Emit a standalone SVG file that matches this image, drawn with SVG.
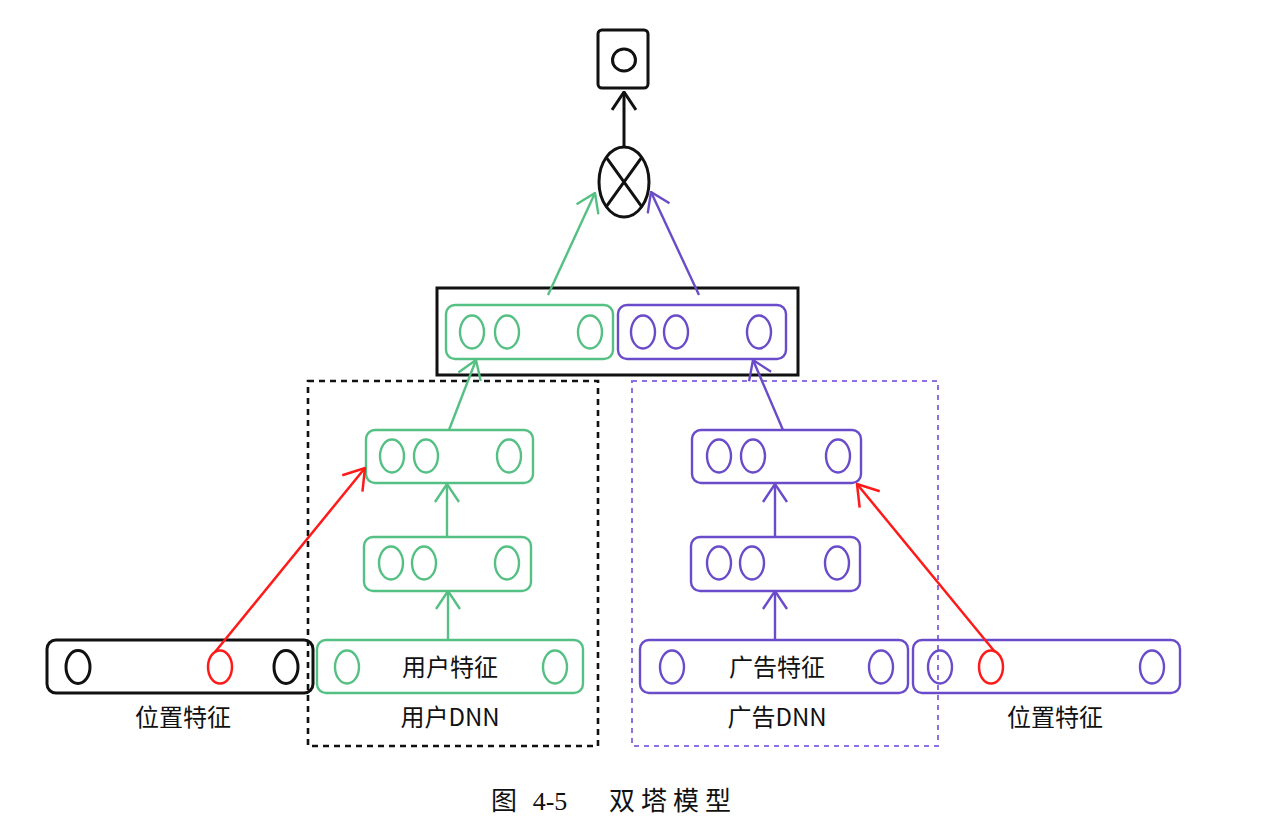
<svg xmlns="http://www.w3.org/2000/svg" width="1284" height="834" viewBox="0 0 1284 834">
<style>
.g{fill:none;stroke:#55c083;stroke-width:2.4}
.p{fill:none;stroke:#6a4bc9;stroke-width:2.4}
.k{fill:none;stroke:#111;stroke-width:3}
.r{fill:none;stroke:#ff1a1a;stroke-width:2.5}
.lbl{font-family:"Noto Sans CJK SC","Noto Sans",sans-serif;font-size:24px;fill:#111;text-anchor:middle;dominant-baseline:central}
.cap{font-family:"Liberation Serif","Noto Sans CJK SC",serif;font-size:26px;fill:#111;text-anchor:middle;dominant-baseline:central}
</style>
<defs>
<marker id="ag" viewBox="0 0 20 26" refX="19" refY="13" markerWidth="20" markerHeight="26" markerUnits="userSpaceOnUse" orient="auto"><path d="M1,1 L19,13 L1,25" fill="none" stroke="#55c083" stroke-width="2.4"/></marker>
<marker id="ap" viewBox="0 0 20 26" refX="19" refY="13" markerWidth="20" markerHeight="26" markerUnits="userSpaceOnUse" orient="auto"><path d="M1,1 L19,13 L1,25" fill="none" stroke="#6a4bc9" stroke-width="2.4"/></marker>
<marker id="ar" viewBox="0 0 22 28" refX="21" refY="14" markerWidth="22" markerHeight="28" markerUnits="userSpaceOnUse" orient="auto"><path d="M1,1 L21,14 L1,27" fill="none" stroke="#ff1a1a" stroke-width="2.5"/></marker>
<marker id="ak" viewBox="0 0 20 26" refX="19" refY="13" markerWidth="20" markerHeight="26" markerUnits="userSpaceOnUse" orient="auto"><path d="M1,1 L19,13 L1,25" fill="none" stroke="#111" stroke-width="3"/></marker>
</defs>
<rect width="1284" height="834" fill="#fff"/>

<g id="user-dnn-frame"><rect x="308" y="381" width="290" height="365" fill="none" stroke="#111" stroke-width="2.6" stroke-dasharray="6,5"/></g>
<g id="ad-dnn-frame"><rect x="632" y="381" width="306" height="365" fill="none" stroke="#8e70e0" stroke-width="2" stroke-dasharray="5,5"/></g>

<g id="output">
<rect class="k" x="598" y="30" width="50" height="58" rx="4"/>
<ellipse class="k" cx="624" cy="60" rx="11.5" ry="11" stroke-width="2.5"/>
</g>
<g id="product">
<ellipse class="k" cx="624" cy="182" rx="25" ry="35"/>
<path class="k" d="M606.3,157.3 L641.7,206.7 M641.7,157.3 L606.3,206.7"/>
</g>
<g id="concat">
<rect class="k" x="437" y="288" width="361" height="87"/>
<rect class="g" x="446" y="305" width="167" height="54" rx="9"/>
<ellipse class="g" cx="472" cy="332" rx="12" ry="16.5"/>
<ellipse class="g" cx="507" cy="332" rx="12" ry="16.5"/>
<ellipse class="g" cx="590" cy="332" rx="12" ry="16.5"/>
<rect class="p" x="618" y="305" width="168" height="54" rx="9"/>
<ellipse class="p" cx="643" cy="332" rx="12" ry="16.5"/>
<ellipse class="p" cx="676" cy="332" rx="12" ry="16.5"/>
<ellipse class="p" cx="759" cy="332" rx="12" ry="16.5"/>
</g>
<g id="user-layer3">
<rect class="g" x="366" y="430" width="167" height="53" rx="9"/>
<ellipse class="g" cx="392" cy="456" rx="12" ry="16.5"/>
<ellipse class="g" cx="426" cy="456" rx="12" ry="16.5"/>
<ellipse class="g" cx="509" cy="456" rx="12" ry="16.5"/>
</g>
<g id="user-layer2">
<rect class="g" x="364" y="537" width="167" height="54" rx="9"/>
<ellipse class="g" cx="391" cy="563" rx="12" ry="16.5"/>
<ellipse class="g" cx="424" cy="563" rx="12" ry="16.5"/>
<ellipse class="g" cx="507" cy="563" rx="12" ry="16.5"/>
</g>
<g id="user-features">
<rect class="g" x="317" y="640" width="266" height="53" rx="9"/>
<ellipse class="g" cx="347" cy="667" rx="12" ry="16.5"/>
<ellipse class="g" cx="555" cy="667" rx="12" ry="16.5"/>
<text class="lbl" x="450" y="665">用户特征</text>
</g>
<g id="position-left">
<rect class="k" x="47" y="640" width="266" height="53" rx="9"/>
<ellipse class="k" cx="78" cy="667" rx="12" ry="16.5" stroke-width="2.6"/>
<ellipse cx="220" cy="667" rx="12" ry="16.5" fill="none" stroke="#ff1a1a" stroke-width="2.5"/>
<ellipse class="k" cx="286" cy="667" rx="12" ry="16.5" stroke-width="2.6"/>
</g>
<g id="ad-layer3">
<rect class="p" x="692" y="430" width="169" height="53" rx="9"/>
<ellipse class="p" cx="719" cy="456" rx="12" ry="16.5"/>
<ellipse class="p" cx="753" cy="456" rx="12" ry="16.5"/>
<ellipse class="p" cx="838" cy="456" rx="12" ry="16.5"/>
</g>
<g id="ad-layer2">
<rect class="p" x="691" y="537" width="169" height="54" rx="9"/>
<ellipse class="p" cx="719" cy="563" rx="12" ry="16.5"/>
<ellipse class="p" cx="752" cy="563" rx="12" ry="16.5"/>
<ellipse class="p" cx="837" cy="563" rx="12" ry="16.5"/>
</g>
<g id="ad-features">
<rect class="p" x="640" y="640" width="268" height="53" rx="9"/>
<ellipse class="p" cx="672" cy="667" rx="12" ry="16.5"/>
<ellipse class="p" cx="881" cy="667" rx="12" ry="16.5"/>
<text class="lbl" x="777" y="665">广告特征</text>
</g>
<g id="position-right">
<rect class="p" x="913" y="640" width="267" height="53" rx="9"/>
<ellipse class="p" cx="940" cy="667" rx="12" ry="16.5"/>
<ellipse cx="991" cy="667" rx="12" ry="16.5" fill="none" stroke="#ff1a1a" stroke-width="2.5"/>
<ellipse class="p" cx="1152" cy="667" rx="12" ry="16.5"/>
</g>

<g id="labels">
<text class="lbl" x="183" y="715">位置特征</text>
<text class="lbl" x="450" y="715">用户DNN</text>
<text class="lbl" x="777" y="715">广告DNN</text>
<text class="lbl" x="1055" y="715">位置特征</text>
</g>

<g id="connectors">
<line class="k" x1="624" y1="147" x2="624" y2="92" marker-end="url(#ak)"/>
<line class="g" x1="548" y1="295" x2="595" y2="193" marker-end="url(#ag)"/>
<line class="p" x1="699" y1="295" x2="651" y2="192" marker-end="url(#ap)"/>
<line class="g" x1="449" y1="430" x2="476" y2="360" marker-end="url(#ag)"/>
<line class="p" x1="783" y1="430" x2="753" y2="360" marker-end="url(#ap)"/>
<line class="g" x1="447" y1="537" x2="447" y2="484" marker-end="url(#ag)"/>
<line class="g" x1="448" y1="640" x2="448" y2="591" marker-end="url(#ag)"/>
<line class="p" x1="775" y1="537" x2="775" y2="484" marker-end="url(#ap)"/>
<line class="p" x1="775" y1="640" x2="775" y2="591" marker-end="url(#ap)"/>
<line class="r" x1="215" y1="652" x2="365" y2="468" marker-end="url(#ar)"/>
<line class="r" x1="995" y1="652" x2="857" y2="484" marker-end="url(#ar)"/>
</g>

<g id="caption">
<text class="cap" x="504" y="801">图</text>
<text class="cap" x="550" y="801" font-size="28">4-5</text>
<text class="cap" x="622" y="801">双</text>
<text class="cap" x="654" y="801">塔</text>
<text class="cap" x="686" y="801">模</text>
<text class="cap" x="718" y="801">型</text>
</g>
</svg>
